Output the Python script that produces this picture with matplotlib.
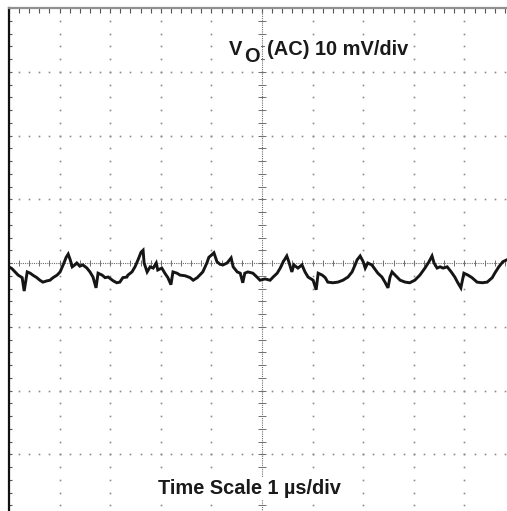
import numpy as np
import matplotlib
matplotlib.use("Agg")
import matplotlib.pyplot as plt
from matplotlib.ticker import MultipleLocator

# output ripple trace, AC coupled: time in us, voltage in mV
time_us = [
    0.00, 0.06, 0.12, 0.18, 0.26, 0.30, 0.36, 0.42, 0.47, 0.55, 0.61, 0.67, 0.75, 0.81,
    0.87, 0.95, 1.01, 1.07, 1.13, 1.17, 1.21, 1.25, 1.30, 1.34, 1.40, 1.46, 1.54, 1.60,
    1.66, 1.72, 1.76, 1.84, 1.90, 1.96, 2.06, 2.13, 2.19, 2.25, 2.33,
    2.35, 2.43, 2.49, 2.55, 2.61, 2.65, 2.67, 2.73, 2.79, 2.85, 2.91, 2.94, 3.02, 3.08,
    3.14, 3.20, 3.24, 3.32, 3.38, 3.48, 3.58, 3.64, 3.72, 3.77, 3.83, 3.91, 3.95, 4.01,
    4.05, 4.11, 4.17, 4.23, 4.31, 4.39, 4.43, 4.51, 4.57, 4.62, 4.66, 4.72,
    4.82, 4.90, 4.96, 5.06, 5.16, 5.22, 5.30, 5.36, 5.42, 5.49, 5.53, 5.59, 5.63, 5.71,
    5.79, 5.85, 5.91, 6.01, 6.07, 6.11, 6.19, 6.25, 6.30, 6.40, 6.50, 6.60, 6.70, 6.78,
    6.84, 6.88, 6.94, 7.00, 7.04, 7.09, 7.17,
    7.29, 7.37, 7.43, 7.49, 7.53, 7.57, 7.63, 7.73, 7.83, 7.92, 8.02, 8.12, 8.22, 8.30,
    8.36, 8.40, 8.46, 8.52, 8.58, 8.66, 8.74, 8.81, 8.87, 8.93, 8.99, 9.07, 9.15, 9.25,
    9.35, 9.45, 9.55, 9.60, 9.68, 9.76, 9.84,
]
ripple_mv = [
    -0.6, -0.9, -1.4, -1.9, -2.3, -4.4, -1.4, -1.6, -1.9, -2.3, -2.7, -3.0, -2.8, -2.7,
    -2.3, -1.9, -1.4, -0.3, 0.9, 1.4, 0.5, -0.6, -0.3, 0.0, -0.5, -0.3, -0.8, -1.4,
    -2.2, -3.9, -1.6, -1.9, -2.3, -2.2, -2.8, -3.1, -3.0, -2.3, -2.2,
    -1.9, -1.4, -0.6, 0.5, 1.7, 2.0, 0.0, -1.4, -0.6, -0.8, 0.0, -1.1, -0.8, -1.6,
    -2.3, -3.4, -1.4, -1.6, -1.9, -2.0, -2.3, -2.7, -2.3, -1.9, -1.4, 0.0, 0.9, 1.3,
    1.6, 0.2, -0.2, -0.3, 0.0, 0.8, -0.6, -1.4, -1.6, -3.1, -1.6, -1.4,
    -1.6, -2.2, -2.7, -2.5, -2.7, -2.2, -1.6, -0.8, 0.2, 1.1, 0.2, -1.4, -0.3, -0.8,
    -0.3, -1.4, -2.2, -2.7, -4.2, -1.6, -1.9, -2.3, -3.0, -3.1, -3.0, -2.7, -2.2, -1.4,
    -0.3, 0.5, 1.1, 0.2, -0.8, 0.0, -0.3,
    -1.6, -2.2, -3.0, -3.9, -2.2, -1.4, -1.9, -2.7, -3.0, -3.1, -2.7, -1.9, -0.8, 0.2,
    1.1, 0.0, -0.8, -0.6, -0.8, -0.6, -1.4, -2.2, -3.1, -3.9, -1.6, -1.9, -2.3, -3.0,
    -3.1, -3.0, -2.3, -1.6, -0.6, 0.2, 0.5,
]

plt.rcParams["font.family"] = ["Liberation Sans", "DejaVu Sans"]

fig = plt.figure(figsize=(5.07, 5.11), dpi=100)
W, H = 507, 511
# screen is 10 x 8 divisions, slightly cut off at right and bottom
ax = fig.add_axes([9 / W, 1 - (8 + 510) / H, 506 / W, 510 / H])
ax.set_xlim(0, 10)
ax.set_ylim(-40, 40)

grid_col = "#8a8a8a"
minor_t = np.arange(0, 10.01, 0.2)
minor_v = np.arange(-40, 40.01, 2)

# dotted graticule
for t in range(1, 10):
    if t == 5:
        continue
    ax.plot(np.full_like(minor_v, t), minor_v, ls="none", marker="s",
            ms=1.2, mew=0, color=grid_col)
for v in (-30, -20, -10, 10, 20, 30):
    ax.plot(minor_t, np.full_like(minor_t, v), ls="none", marker="s",
            ms=1.2, mew=0, color=grid_col)

# center axes with fine ticks
ax.axhline(0, color="#6e6e6e", lw=0.8, ls=(0, (1, 1)))
ax.axvline(5, color="#6e6e6e", lw=0.8, ls=(0, (1, 1)))
ax.plot(minor_t, np.zeros_like(minor_t), ls="none", marker="|", ms=4.5,
        mew=0.7, color="#6e6e6e")
ax.plot(np.full_like(minor_v, 5), minor_v, ls="none", marker="_", ms=5.5,
        mew=0.7, color="#6e6e6e")

# ripple trace
ax.plot(time_us, ripple_mv, color="#151515", lw=2.1, solid_joinstyle="miter")

# frame
for side in ("right", "bottom"):
    ax.spines[side].set_visible(False)
ax.spines["left"].set_color("#111111")
ax.spines["left"].set_linewidth(1.6)
ax.spines["top"].set_color("#909090")
ax.spines["top"].set_linewidth(1.6)
ax.xaxis.set_major_locator(MultipleLocator(1))
ax.xaxis.set_minor_locator(MultipleLocator(0.2))
ax.yaxis.set_major_locator(MultipleLocator(10))
ax.yaxis.set_minor_locator(MultipleLocator(2))
ax.tick_params(which="both", direction="in", top=True, bottom=False,
               left=True, right=False, labeltop=False, labelbottom=False,
               labelleft=False, color="#555555", width=0.8)
ax.tick_params(axis="x", which="both", length=3.5)
ax.tick_params(axis="y", which="both", length=2.5)

# annotations on white boxes over the graticule
box = dict(facecolor="white", edgecolor="none", pad=1.5)
txt = dict(fontsize=14.4, fontweight="bold", color="#1a1a1a", va="baseline",
           ha="left", zorder=5)
ax.text(4.35, 32.6, "V", bbox=box, **txt)
ax.text(4.64, 31.6, "O", bbox=box, **txt)
ax.text(5.10, 32.6, "(AC) 10 mV/div", bbox=box, **txt)
ax.text(2.94, -36.2, "Time Scale 1 \u00b5s/div", bbox=box, **txt)

fig.savefig("out.png", dpi=100, facecolor="white")
